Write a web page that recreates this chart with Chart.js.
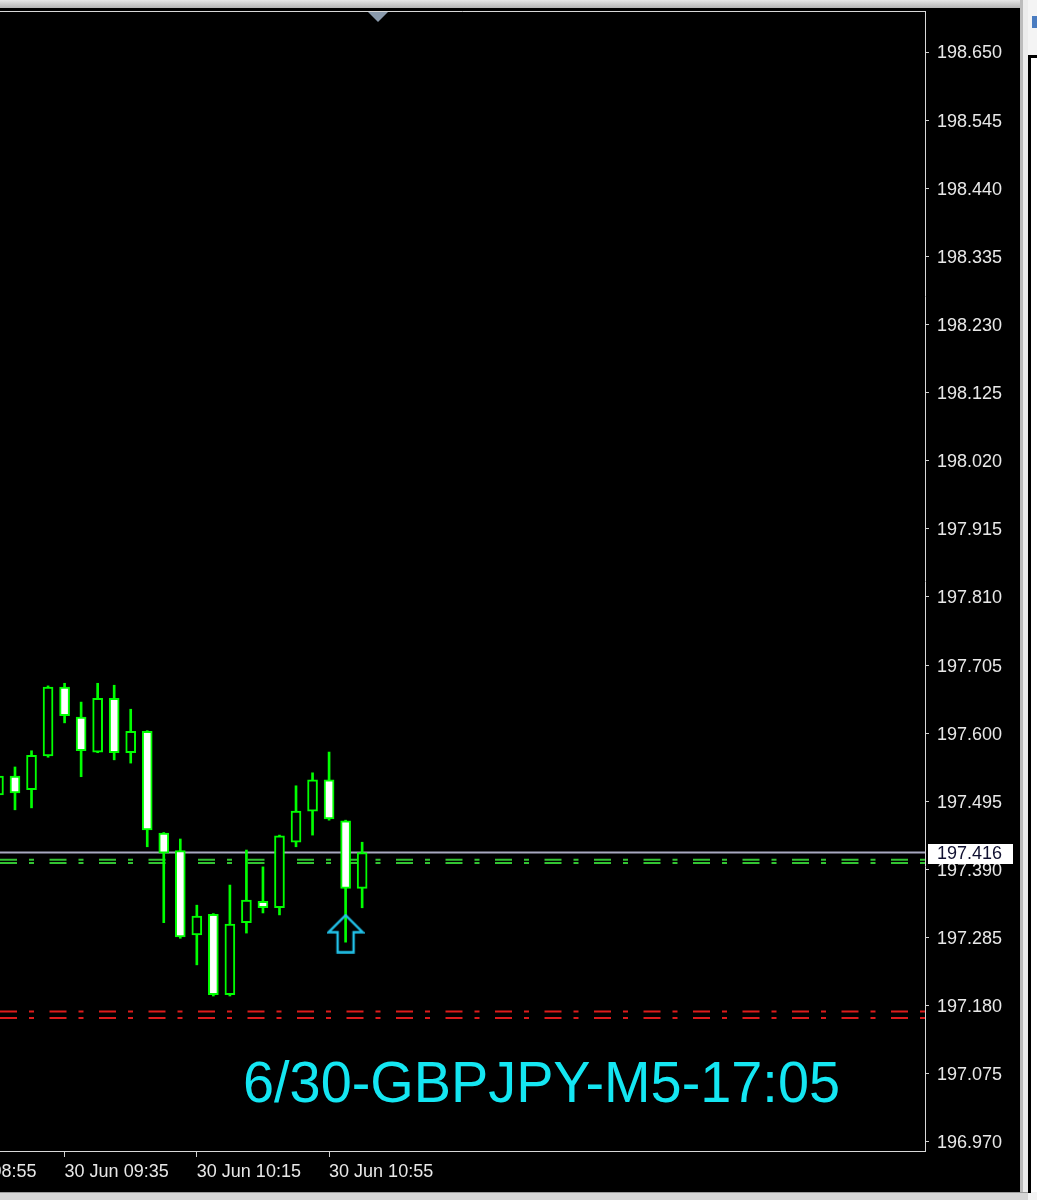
<!DOCTYPE html>
<html><head><meta charset="utf-8">
<script src="https://cdn.jsdelivr.net/npm/chart.js@4.4.0/dist/chart.umd.min.js"></script>
<style>html,body{margin:0;padding:0;background:#000;overflow:hidden}#wrap{position:relative;width:1037px;height:1200px}</style>
</head><body><div id="wrap"><canvas id="c" width="1037" height="1200"></canvas></div>
<script>
// ---- data (GBPJPY M5, 30 Jun) ----
const barIdx = [-1,0,1,2,3,4,5,6,7,8,9,10,11,12,13,14,15,16,17,18,19,20,21];
const times  = ['09:15','09:20','09:25','09:30','09:35','09:40','09:45','09:50','09:55','10:00','10:05','10:10','10:15','10:20','10:25','10:30','10:35','10:40','10:45','10:50','10:55','11:00','11:05'];
const opens  = [197.505,197.534,197.513,197.565,197.671,197.625,197.571,197.654,197.570,197.603,197.446,197.419,197.289,197.321,197.197,197.308,197.341,197.331,197.432,197.480,197.528,197.465,197.361];
const highs  = [197.543,197.548,197.573,197.673,197.677,197.648,197.677,197.674,197.637,197.604,197.447,197.437,197.335,197.322,197.366,197.420,197.394,197.443,197.519,197.539,197.571,197.466,197.432];
const lows   = [197.497,197.482,197.485,197.563,197.616,197.533,197.570,197.559,197.554,197.425,197.308,197.284,197.243,197.195,197.195,197.292,197.323,197.320,197.425,197.443,197.466,197.278,197.331];
const closes = [197.534,197.508,197.566,197.671,197.627,197.573,197.654,197.570,197.603,197.451,197.415,197.286,197.318,197.197,197.306,197.343,197.331,197.442,197.480,197.528,197.468,197.361,197.416];
const priceTicks = [196.970,197.075,197.180,197.285,197.390,197.495,197.600,197.705,197.810,197.915,198.020,198.125,198.230,198.335,198.440,198.545,198.650];
const timeTickIdx = [-5,3,11,19];
const timeTickLabels = ['30 Jun 08:55','30 Jun 09:35','30 Jun 10:15','30 Jun 10:55'];
const greenLevels = [197.405,197.400];
const redLevels = [197.171,197.161];
const bidPrice = 197.416;
const buyArrow = {idx:20, price:197.291};
const titleText = '6/30-GBPJPY-M5-17:05';
const yMin = 196.9561, yMax = 198.7132;
const xMin = -0.907, xMax = 55.05;

// ---- build datasets ----
const wickData = barIdx.map((x,i)=>({x, y:[lows[i], highs[i]]}));
const bodyData = barIdx.map((x,i)=>({x, y:[Math.min(opens[i],closes[i]), Math.max(opens[i],closes[i])]}));
const bodyFill = barIdx.map((x,i)=> closes[i] < opens[i] ? '#ffffff' : '#000000');
const lvl = (p)=>[{x:xMin,y:p},{x:xMax,y:p}];
const dashDot = [17,12,5,15.5];

const arrowImg = document.createElement('canvas');
arrowImg.width = 38; arrowImg.height = 40;
(function(){
  const g = arrowImg.getContext('2d');
  g.strokeStyle = '#22c2ea'; g.lineWidth = 2.4; g.lineJoin='miter';
  g.beginPath();
  g.moveTo(19,1.5); g.lineTo(36,18.5); g.lineTo(27,18.5); g.lineTo(27,38.5);
  g.lineTo(11,38.5); g.lineTo(11,18.5); g.lineTo(2,18.5); g.closePath(); g.stroke();
})();

const datasets = [
  {type:'bar', label:'body', data:bodyData, backgroundColor:bodyFill, borderColor:'#00ff00', borderWidth:2,
   borderSkipped:false, grouped:false, barThickness:10, maxBarThickness:10, order:0},
  {type:'bar', label:'wick', data:wickData, backgroundColor:'#00ff00', borderWidth:0,
   grouped:false, barThickness:2, maxBarThickness:2, order:1},
  {type:'line', label:'arrow', data:[{x:buyArrow.idx, y:buyArrow.price}], showLine:false,
   pointStyle:arrowImg, pointRadius:10, order:-1},
  {type:'line', label:'bid', data:lvl(bidPrice), borderColor:'#a8a8c0', borderWidth:2, pointRadius:0, order:6},
  ...greenLevels.map(p=>({type:'line', label:'g', data:lvl(p), borderColor:'#33c433', borderWidth:2, borderDash:dashDot, pointRadius:0, order:5})),
  ...redLevels.map(p=>({type:'line', label:'r', data:lvl(p), borderColor:'#dc1c1c', borderWidth:2, borderDash:dashDot, pointRadius:0, order:5}))
];

const frame = {
  id:'frame',
  beforeDraw(chart){ const c=chart.ctx; c.save(); c.fillStyle='#000'; c.fillRect(0,0,chart.width,chart.height); c.restore(); },
  afterDraw(chart){
    const c=chart.ctx, a=chart.chartArea, ys=chart.scales.y;
    c.save();
    // top band
    const g=c.createLinearGradient(0,0,0,8); g.addColorStop(0,'#e6e6e6'); g.addColorStop(1,'#b4b4b4');
    c.fillStyle=g; c.fillRect(0,0,1037,8);
    c.fillStyle='#000'; c.fillRect(0,8,1021,2);
    // top border of plot
    c.strokeStyle='#d8d8d8'; c.lineWidth=1;
    c.beginPath(); c.moveTo(0,a.top+0.5); c.lineTo(a.right+0.5,a.top+0.5); c.stroke();
    // shift marker
    c.fillStyle='#8a9aac'; c.beginPath(); c.moveTo(368,a.top+1); c.lineTo(388,a.top+1); c.lineTo(378,a.top+11); c.closePath(); c.fill();
    // bid price box
    const py = ys.getPixelForValue(bidPrice);
    c.fillStyle='#ffffff'; c.fillRect(928, Math.round(py)-9, 85, 20);
    c.fillStyle='#101030'; c.font='18px "Liberation Sans", Arial, sans-serif'; c.textBaseline='middle'; c.textAlign='left';
    c.fillText(bidPrice.toFixed(3), 937, Math.round(py)+1);
    // caption text
    c.font='58px "Liberation Sans", Arial, sans-serif'; c.textBaseline='alphabetic';
    const w = c.measureText(titleText).width;
    c.translate(243, 1102); c.scale(597/w, 1);
    c.fillStyle='#14e6f2'; c.fillText(titleText, 0, 0);
    c.setTransform(1,0,0,1,0,0);
    // right window frame
    c.fillStyle='#bcbcbc'; c.fillRect(1020,0,3,1200);
    c.fillStyle='#ececec'; c.fillRect(1023,0,5,1200);
    c.fillStyle='#f4f4f4'; c.fillRect(1028,0,9,1200);
    c.fillStyle='#4a7cc0'; c.fillRect(1032,16,5,12);
    c.fillStyle='#000'; c.fillRect(1028,55,3,1138); c.fillRect(1028,55,9,3);
    c.fillStyle='#ffffff'; c.fillRect(1031,58,6,1134);
    // bottom band
    c.fillStyle='#9c9c9c'; c.fillRect(0,1192,1028,1);
    c.fillStyle='#d6d6d6'; c.fillRect(0,1193,1028,7);
    c.restore();
  }
};

Chart.defaults.font.family = '"Liberation Sans", Arial, sans-serif';
Chart.defaults.font.size = 18;
Chart.defaults.color = '#e8e8e8';

new Chart(document.getElementById('c'), {
  type:'bar',
  data:{datasets},
  plugins:[frame],
  options:{
    responsive:false, animation:false, devicePixelRatio:1,
    layout:{autoPadding:false, padding:{top:11,left:0,right:0,bottom:0}},
    plugins:{legend:{display:false}, tooltip:{enabled:false}},
    scales:{
      x:{type:'linear', min:xMin, max:xMax, offset:false, bounds:'data',
         grid:{display:true, drawOnChartArea:false, drawTicks:true, tickLength:6, color:'#d0d0d0', offset:false},
         border:{display:true, color:'#d8d8d8', width:1},
         ticks:{autoSkip:false, maxRotation:0, minRotation:0, align:'start', padding:4, color:'#e8e8e8',
                callback:(v,i)=>timeTickLabels[i]},
         afterBuildTicks:(s)=>{ s.ticks = timeTickIdx.map(v=>({value:v})); },
         afterFit:(s)=>{ s.height = 49; s.paddingLeft = 0; s.paddingRight = 0; }
      },
      y:{type:'linear', position:'right', min:yMin, max:yMax, bounds:'data', grace:0,
         grid:{display:true, drawOnChartArea:false, drawTicks:true, tickLength:4, color:'#d0d0d0'},
         border:{display:true, color:'#d8d8d8', width:1},
         ticks:{padding:8, color:'#e8e8e8', crossAlign:'near', labelOffset:1.5, callback:(v)=>Number(v).toFixed(3)},
         afterBuildTicks:(s)=>{ s.ticks = priceTicks.map(v=>({value:v})); },
         afterFit:(s)=>{ s.width = 112; s.paddingTop = 0; s.paddingBottom = 0; }
      }
    }
  }
});
</script></body></html>
